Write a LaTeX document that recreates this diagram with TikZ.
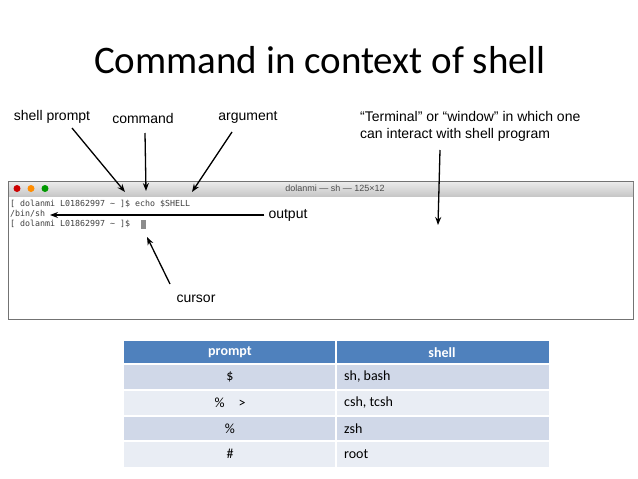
\documentclass[tikz,border=0pt]{standalone}
\usepackage{fontspec}
\setmainfont{Carlito}
\newfontfamily\labelfont{Liberation Sans}
\newfontfamily\termfont{DejaVu Sans Mono}
\usetikzlibrary{arrows.meta}
\definecolor{headblue}{HTML}{4F81BD}
\definecolor{rowdark}{HTML}{D0D8E8}
\definecolor{rowlight}{HTML}{E9EDF4}
\tikzset{
  callout/.style={font=\labelfont\fontsize{14}{17}\selectfont, inner sep=0pt},
  pointer/.style={-{Stealth[length=8pt,width=6pt]}, line width=1.3pt},
  termtext/.style={font=\termfont\fontsize{8.3}{9}\selectfont, text=black!75, anchor=west, inner sep=0pt},
  cell/.style={font=\fontsize{14}{16}\selectfont, inner sep=0pt}
}
\begin{document}
\begin{tikzpicture}[x=1pt, y=-1pt]
\useasboundingbox (0,0) rectangle (638,479);
% title
\node[font=\fontsize{39}{44}\selectfont] (title) at (320,60) {Command in context of shell};
% terminal window
\fill[black!55] (8,181) rectangle (634,320);
\fill[white] (9,196) rectangle (633,319);
\shade[top color=black!8, bottom color=black!22] (9,182) rectangle (633,196);
\fill[red!80!black] (17,188.5) circle (3.5);
\fill[orange!90!yellow] (31,188.5) circle (3.5);
\fill[green!60!black] (45,188.5) circle (3.5);
\node[font=\labelfont\fontsize{9}{10}\selectfont, text=black!70] (wtitle) at (335,188) {dolanmi — sh — 125×12};
\node[termtext] (line1) at (10,204) {[ dolanmi L01862997  \textasciitilde{} ]\$ echo \$SHELL};
\node[termtext] (line2) at (10,214) {/bin/sh};
\node[termtext] (line3) at (10,224) {[ dolanmi L01862997  \textasciitilde{} ]\$};
\fill[black!45] (141,220) rectangle (146,229);
% labels
\node[callout] (prompt) at (52,117) {shell prompt};
\node[callout] (cmd) at (143,118) {command};
\node[callout] (arg) at (248,117) {argument};
\node[callout, align=left, anchor=west] (term) at (360,126) {“Terminal” or “window” in which one\\can interact with shell program};
\node[callout] (out) at (288,215) {output};
\node[callout] (cur) at (196,299) {cursor};
% arrows
\coordinate (promptend) at (125,192);
\coordinate (cmdend) at (146,191);
\coordinate (argend) at (192,192);
\coordinate (outend) at (50,215);
\coordinate (termend) at (438,225);
\coordinate (curend) at (147,237);
\draw[pointer] (72,128) -- (promptend);
\draw[pointer] (145,133) -- (cmdend);
\draw[pointer] (232,132) -- (argend);
\draw[pointer] (out.west) ++(-4,0) -- (outend);
\draw[pointer] (440,150) -- (termend);
\draw[pointer] (170,284) -- (curend);
% table
\fill[headblue] (124,341) rectangle (549,364);
\foreach \top/\col in {364/rowdark, 390/rowlight, 416/rowdark, 441/rowlight}
  \fill[\col] (124,\top) rectangle (549,\top+25.5);
\foreach \y in {364,390,416,441}
  \draw[white, line width=1.2pt] (124,\y) -- (549,\y);
\draw[white, line width=1.2pt] (336,341) -- (336,467);
\node[cell, text=white, font=\bfseries\fontsize{14}{16}\selectfont] (hprompt) at (230,352.5) {prompt};
\node[cell, text=white, font=\bfseries\fontsize{14}{16}\selectfont] (hshell) at (442,352.5) {shell};
\node[cell] (p1) at (230,377) {\$};
\node[cell] (p2) at (230,403) {\%\quad >};
\node[cell] (p3) at (230,428.5) {\%};
\node[cell] (p4) at (230,454) {\#};
\node[cell, anchor=west] (s1) at (344,377) {sh, bash};
\node[cell, anchor=west] (s2) at (344,403) {csh, tcsh};
\node[cell, anchor=west] (s3) at (344,428.5) {zsh};
\node[cell, anchor=west] (s4) at (344,454) {root};
\end{tikzpicture}
\end{document}
